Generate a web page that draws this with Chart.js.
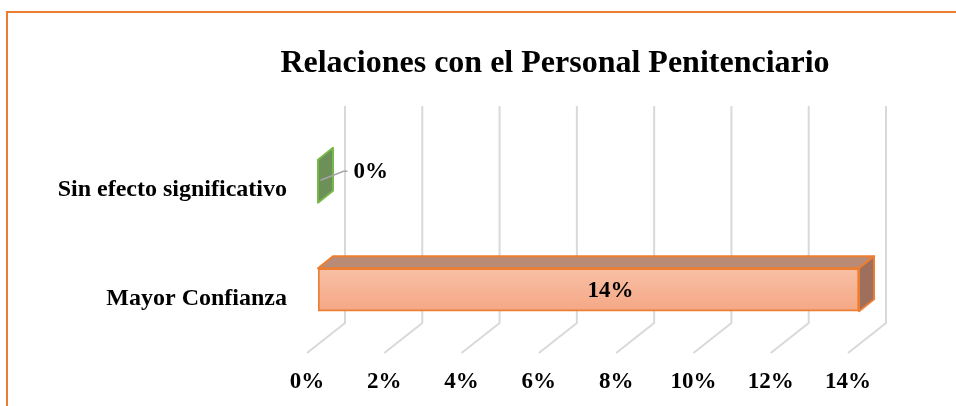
<!DOCTYPE html>
<html>
<head>
<meta charset="utf-8">
<script src="https://cdn.jsdelivr.net/npm/chart.js@4.4.1/dist/chart.umd.min.js"></script>
<style>
  html, body { margin: 0; padding: 0; background: #fff; overflow: hidden; width: 956px; height: 406px; }
  #wrap { position: absolute; left: 0; top: 0; }
</style>
</head>
<body>
<div id="wrap"><canvas id="grafico" width="1110" height="420"></canvas></div>
<script>
// Datos del gráfico
const categorias = ['Sin efecto significativo', 'Mayor Confianza'];
const porcentajes = [0, 14];
const etiquetasEje = [0, 2, 4, 6, 8, 10, 12, 14];
const titulo = 'Relaciones con el Personal Penitenciario';

const FUENTE = "'Liberation Serif', 'Times New Roman', serif";

// Colores de cada barra (frente, borde, techo, lateral)
const colorFrente = ['#6d8f58', '#f7b497'];
const colorBorde = ['#77b84a', '#ed7d31'];
const colorTecho = ['#6d8f58', '#b98b77'];
const colorLado = ['#6d8f58', '#9e6f5c'];

// profundidad del efecto 3D
const FONDO = { dx: 38, dy: -30 };
const BARRA = { dx: 11, dy: -9 };
const PROF = { dx: 15, dy: -12 };

const marco = {
  id: 'marco',
  beforeDraw(chart) {
    const ctx = chart.ctx;
    ctx.save();
    ctx.strokeStyle = '#ed7d31';
    ctx.lineWidth = 2;
    ctx.strokeRect(7, 12, chart.width, chart.height);
    // título centrado en el marco completo
    ctx.fillStyle = '#000';
    ctx.font = 'bold 32px ' + FUENTE;
    ctx.textAlign = 'center';
    ctx.textBaseline = 'alphabetic';
    ctx.fillText(titulo, 555, 72);
    ctx.restore();
  }
};

const rejilla3d = {
  id: 'rejilla3d',
  beforeDatasetsDraw(chart) {
    const ctx = chart.ctx;
    const x = chart.scales.x;
    const a = chart.chartArea;
    ctx.save();
    ctx.strokeStyle = '#d9d9d9';
    ctx.lineWidth = 2;
    etiquetasEje.forEach(v => {
      const px = x.getPixelForValue(v);
      ctx.beginPath();
      ctx.moveTo(px + FONDO.dx, a.top + FONDO.dy);
      ctx.lineTo(px + FONDO.dx, a.bottom + FONDO.dy);
      ctx.lineTo(px, a.bottom);
      ctx.stroke();
    });
    ctx.restore();
  },
  beforeDatasetDraw(chart) {
    chart.ctx.save();
    chart.ctx.translate(BARRA.dx, BARRA.dy);
  },
  afterDatasetDraw(chart) {
    const ctx = chart.ctx;
    const meta = chart.getDatasetMeta(0);
    meta.data.forEach((bar, i) => {
      const top = bar.y - bar.height / 2;
      const bot = bar.y + bar.height / 2;
      ctx.lineWidth = 2;
      ctx.strokeStyle = colorBorde[i];
      ctx.lineJoin = 'round';
      // techo
      if (bar.x - bar.base > 1) {
        ctx.beginPath();
        ctx.moveTo(bar.base, top);
        ctx.lineTo(bar.base + PROF.dx, top + PROF.dy);
        ctx.lineTo(bar.x + PROF.dx, top + PROF.dy);
        ctx.lineTo(bar.x, top);
        ctx.closePath();
        ctx.fillStyle = colorTecho[i];
        ctx.fill();
        ctx.stroke();
      }
      // lateral
      ctx.beginPath();
      ctx.moveTo(bar.x, top);
      ctx.lineTo(bar.x + PROF.dx, top + PROF.dy);
      ctx.lineTo(bar.x + PROF.dx, bot + PROF.dy);
      ctx.lineTo(bar.x, bot);
      ctx.closePath();
      ctx.fillStyle = colorLado[i];
      ctx.fill();
      ctx.stroke();
    });
    ctx.restore();

    // etiquetas de datos
    ctx.save();
    ctx.fillStyle = '#000';
    ctx.font = 'bold 23px ' + FUENTE;
    ctx.textBaseline = 'middle';
    meta.data.forEach((bar, i) => {
      const txt = porcentajes[i] + '%';
      if (bar.x - bar.base > 60) {
        ctx.textAlign = 'center';
        ctx.fillText(txt, (bar.x + bar.base) / 2 + BARRA.dx + 22, bar.y + BARRA.dy + 1);
      } else {
        const cx = bar.x + BARRA.dx + PROF.dx / 2;
        const cy = bar.y + BARRA.dy + PROF.dy / 2;
        ctx.strokeStyle = '#a6a6a6';
        ctx.lineWidth = 1.5;
        ctx.beginPath();
        ctx.moveTo(cx - 5, cy + 5);
        ctx.lineTo(cx + 18, cy - 4);
        ctx.lineTo(cx + 22, cy - 4);
        ctx.stroke();
        ctx.textAlign = 'left';
        ctx.fillText(txt, cx + 28, cy - 3);
      }
    });
    ctx.restore();
  }
};

const ctx = document.getElementById('grafico').getContext('2d');
new Chart(ctx, {
  type: 'bar',
  data: {
    labels: categorias,
    datasets: [{
      data: porcentajes,
      backgroundColor: (c) => {
        const ys = c.chart.scales.y;
        if (!ys || c.dataIndex === 0) return colorFrente[c.dataIndex];
        const cy = ys.getPixelForValue(c.dataIndex);
        if (!isFinite(cy)) return colorFrente[c.dataIndex];
        const g = c.chart.ctx.createLinearGradient(0, cy - 22, 0, cy + 22);
        g.addColorStop(0, '#f8c0a5');
        g.addColorStop(1, '#f5a785');
        return g;
      },
      borderColor: colorBorde,
      borderWidth: 2,
      borderSkipped: false,
      barThickness: 43
    }]
  },
  options: {
    indexAxis: 'y',
    responsive: false,
    animation: false,
    layout: { padding: { left: 0, right: 262, top: 136, bottom: 0 } },
    plugins: {
      legend: { display: false },
      tooltip: { enabled: false },
      title: { display: false }
    },
    scales: {
      x: {
        min: 0,
        max: 14,
        afterFit(s) { s.height = 67; },
        afterBuildTicks(s) { s.ticks = etiquetasEje.map(v => ({ value: v })); },
        grid: { display: false, drawTicks: false },
        border: { display: false },
        ticks: {
          padding: 15,
          color: '#000',
          font: { family: FUENTE, size: 23, weight: 'bold' },
          callback: (v) => v + '%'
        }
      },
      y: {
        afterFit(s) { s.width = 307; },
        grid: { display: false, drawTicks: false },
        border: { display: false },
        ticks: {
          padding: 20,
          color: '#000',
          font: { family: FUENTE, size: 24, weight: 'bold' }
        }
      }
    }
  },
  plugins: [marco, rejilla3d]
});
</script>
</body>
</html>
